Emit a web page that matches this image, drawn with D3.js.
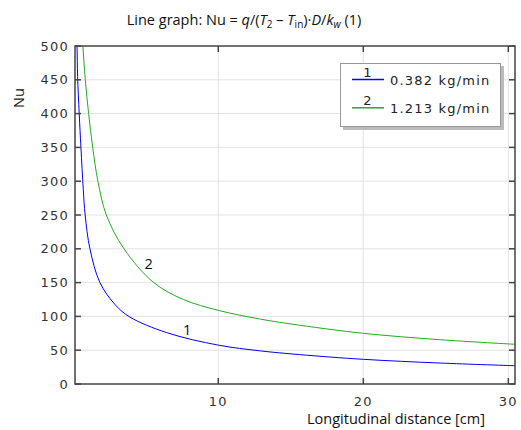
<!DOCTYPE html>
<html>
<head>
<meta charset="utf-8">
<script src="https://cdn.jsdelivr.net/npm/d3@7"></script>
<style>
  body { margin: 0; background: #fff; }
  .tick-label { font-family: "DejaVu Sans", sans-serif; font-size: 13px; letter-spacing: 1.2px; fill: #333; }
  .legend-text { font-family: "DejaVu Sans", sans-serif; font-size: 13px; letter-spacing: 1.2px; fill: #222; }
  .label { font-family: "Open Sans", sans-serif; font-size: 14.5px; fill: #111; }
</style>
</head>
<body>
<svg id="chart" width="521" height="430"></svg>
<script>
// series 1: 0.382 kg/min
const x1  = [0.18, 0.26, 0.30, 0.41, 0.53, 0.69, 0.82, 1.15, 1.84, 2.90, 3.91, 6.44, 10.0, 12.9, 15.6, 20.0, 25.3, 30.5]
const nu1 = [570, 500, 455, 400, 350, 288, 250, 200, 150, 117, 99, 76, 57.5, 49, 43.5, 36.5, 31, 27]
// series 2: 1.213 kg/min
const x2  = [0.55, 0.65, 0.83, 1.06, 1.34, 1.70, 2.28, 3.50, 5.55, 7.60, 10.0, 12.9, 15.6, 20.0, 25.3, 30.5]
const nu2 = [545, 505, 450, 400, 350, 300, 250, 200, 150, 125, 109, 96, 87, 75, 65.5, 58.7]

const seriesNames = ["1", "2"]
const legendLabels = ["0.382 kg/min", "1.213 kg/min"]
const seriesColors = ["#0000ff", "#22aa22"]
const xTicks = [10, 20, 30]
const yTicks = [0, 50, 100, 150, 200, 250, 300, 350, 400, 450, 500]

const pLeft = 75, pRight = 515, pTop = 46, pBottom = 384

const xScale = d3.scaleLinear().domain([0.12, 30.46]).range([pLeft, pRight])
const yScale = d3.scaleLinear().domain([0, 500]).range([pBottom, pTop])

const svg = d3.select("#chart")

svg.append("defs").append("clipPath").attr("id", "plot-clip")
  .append("rect")
  .attr("x", pLeft).attr("y", pTop)
  .attr("width", pRight - pLeft).attr("height", pBottom - pTop)

// grid
svg.append("g").selectAll("line").data(yTicks.filter(d => d > 0 && d < 500)).join("line")
  .attr("x1", pLeft).attr("x2", pRight)
  .attr("y1", d => yScale(d)).attr("y2", d => yScale(d))
  .attr("stroke", "#e2e2e2").attr("stroke-width", 1)
svg.append("g").selectAll("line").data(xTicks).join("line")
  .attr("x1", d => xScale(d)).attr("x2", d => xScale(d))
  .attr("y1", pTop).attr("y2", pBottom)
  .attr("stroke", "#e2e2e2").attr("stroke-width", 1)

// curves
const line = d3.line().x(d => xScale(d[0])).y(d => yScale(d[1])).curve(d3.curveCatmullRom.alpha(0.5))
const series = [d3.zip(x1, nu1), d3.zip(x2, nu2)]
svg.append("g").attr("clip-path", "url(#plot-clip)")
  .selectAll("path").data(series).join("path")
  .attr("d", line)
  .attr("fill", "none")
  .attr("stroke", (d, i) => seriesColors[i])
  .attr("stroke-width", 1)

// curve labels
svg.append("text").attr("class", "label").attr("x", xScale(7.85)).attr("y", yScale(72))
  .attr("text-anchor", "middle").text(seriesNames[0])
svg.append("text").attr("class", "label").attr("x", xScale(5.2)).attr("y", yScale(170))
  .attr("text-anchor", "middle").text(seriesNames[1])

// axes: ticks inward on all four sides
const axisColor = "#444"
const tk = 6
const xAx = svg.append("g")
xAx.selectAll(".b").data(xTicks).join("line")
  .attr("x1", d => xScale(d)).attr("x2", d => xScale(d))
  .attr("y1", pBottom).attr("y2", pBottom - tk).attr("stroke", axisColor).attr("stroke-width", 1.5)
xAx.selectAll(".t").data(xTicks).join("line")
  .attr("x1", d => xScale(d)).attr("x2", d => xScale(d))
  .attr("y1", pTop).attr("y2", pTop + tk).attr("stroke", axisColor).attr("stroke-width", 1.5)
svg.append("g").selectAll("text").data(xTicks).join("text")
  .attr("class", "tick-label")
  .attr("x", d => xScale(d)).attr("y", 406)
  .attr("text-anchor", "middle").text(d => d)

const yAx = svg.append("g")
yAx.selectAll(".l").data(yTicks).join("line")
  .attr("x1", pLeft).attr("x2", pLeft + tk)
  .attr("y1", d => yScale(d)).attr("y2", d => yScale(d)).attr("stroke", axisColor).attr("stroke-width", 1.5)
yAx.selectAll(".r").data(yTicks).join("line")
  .attr("x1", pRight).attr("x2", pRight - tk)
  .attr("y1", d => yScale(d)).attr("y2", d => yScale(d)).attr("stroke", axisColor).attr("stroke-width", 1.5)
svg.append("g").selectAll("text").data(yTicks).join("text")
  .attr("class", "tick-label")
  .attr("x", 69).attr("y", d => yScale(d) + 4.5)
  .attr("text-anchor", "end").text(d => d)

// frame
svg.append("rect")
  .attr("x", pLeft).attr("y", pTop)
  .attr("width", pRight - pLeft).attr("height", pBottom - pTop)
  .attr("fill", "none").attr("stroke", axisColor).attr("stroke-width", 1.5)

// legend
const lg = svg.append("g")
lg.append("rect").attr("x", 343).attr("y", 66).attr("width", 161).attr("height", 64).attr("fill", "#bbb")
lg.append("rect").attr("x", 340.5).attr("y", 63.5).attr("width", 160).attr("height", 63)
  .attr("fill", "#fff").attr("stroke", "#999").attr("stroke-width", 1)
legendLabels.forEach((lab, i) => {
  const ly = 79.5 + i * 28.3
  lg.append("line").attr("x1", 352).attr("x2", 384).attr("y1", ly).attr("y2", ly)
    .attr("stroke", seriesColors[i]).attr("stroke-width", 1.5)
  lg.append("text").attr("class", "legend-text").attr("x", 368).attr("y", ly - 3)
    .attr("text-anchor", "middle").text(seriesNames[i])
  lg.append("text").attr("class", "legend-text").attr("x", 390).attr("y", ly + 5).text(lab)
})

// axis labels
svg.append("text").attr("class", "label")
  .attr("transform", `translate(${24},${98}) rotate(-90)`)
  .attr("text-anchor", "middle").text("Nu")
svg.append("text").attr("class", "label")
  .attr("x", 396).attr("y", 424).attr("text-anchor", "middle")
  .text("Longitudinal distance [cm]")

// title
const title = svg.append("text").attr("class", "label").attr("x", 244).attr("y", 25).attr("text-anchor", "middle")
title.append("tspan").text("Line graph: Nu = ")
title.append("tspan").attr("font-style", "italic").text("q")
title.append("tspan").text("/(")
title.append("tspan").attr("font-style", "italic").text("T")
title.append("tspan").attr("font-size", "10px").attr("dy", 3).text("2")
title.append("tspan").attr("dy", -3).text(" \u2013 ")
title.append("tspan").attr("font-style", "italic").text("T")
title.append("tspan").attr("font-size", "10px").attr("dy", 3).text("in")
title.append("tspan").attr("dy", -3).text(")\u00b7")
title.append("tspan").attr("font-style", "italic").text("D")
title.append("tspan").text("/")
title.append("tspan").attr("font-style", "italic").text("k")
title.append("tspan").attr("font-style", "italic").attr("font-size", "10px").attr("dy", 3).text("w")
title.append("tspan").attr("dy", -3).text(" (1)")
</script>
</body>
</html>
